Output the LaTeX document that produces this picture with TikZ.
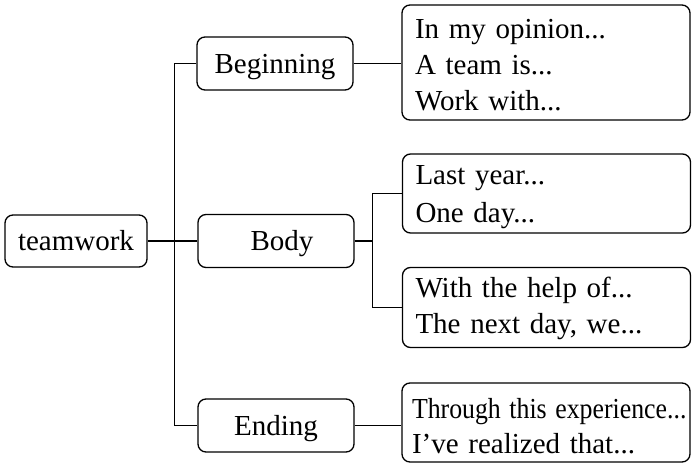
\documentclass[tikz,border=0pt]{standalone}
\usepackage{fontspec}
\usepackage{graphicx}
\setmainfont{Liberation Serif}
\begin{document}
\begin{tikzpicture}[x=1pt,y=-1pt,
  every node/.style={font=\fontsize{29}{36}\selectfont},
  box/.style={draw, line width=1.3pt, rounded corners=8pt, inner sep=0pt, align=center, text height=19pt, text depth=0pt},
  mid/.style={box, minimum width=156pt, minimum height=53pt},
  txt/.style={box, minimum width=288pt, text width=262pt, align=left, inner xsep=13pt},
  link/.style={line width=1.3pt}]
\useasboundingbox (0,0) rectangle (697,464);
\node[box, minimum width=142pt, minimum height=52pt] (team) at (76,241) {teamwork};
\node[mid] (beg) at (275,63.5) {Beginning};
\node[mid] (body) at (276,241) {\hspace*{12pt}Body};
\node[mid] (end) at (276,425.5) {Ending};
\node[txt, minimum height=115pt, text depth=68pt] (r1) at (546,62.5) {In my opinion...\\A team is...\\Work with...};
\node[txt, minimum height=79pt, text depth=38pt, font=\fontsize{29}{38}\selectfont] (r2) at (546.5,193.5) {Last year...\\One day...};
\node[txt, minimum height=80pt, text depth=40pt] (r3) at (546.5,307.5) {With the help of...\\The next day, we...};
\node[txt, minimum height=79pt, text depth=28pt, inner xsep=10pt, text width=268pt, font=\fontsize{29}{35}\selectfont] (r4) at (546,422.5) {\scalebox{0.89}[1]{Through this experience...}\\I’ve realized that...};
\draw[link] (beg.east) -- (beg.east -| r1.west);
\draw[link] (beg.west) -- ++(-22,0) coordinate (trunk) |- (end.west);
\draw[link] (team.east) -- (body.west);
\draw[link] (body.east) -- ++(18,0) coordinate (bj);
\draw[link] (bj) |- (r2.west);
\draw[link] (bj) |- (r3.west);
\draw[link] (end.east) -- (end.east -| r4.west);
\end{tikzpicture}
\end{document}
